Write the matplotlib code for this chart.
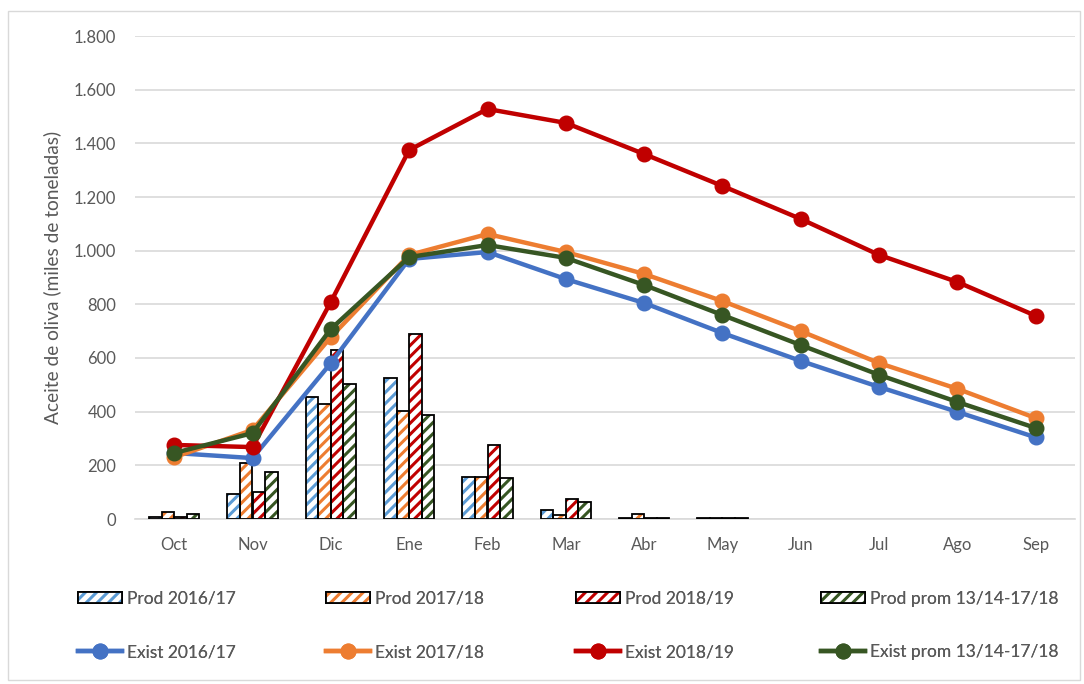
import matplotlib
matplotlib.use("Agg")
import matplotlib.pyplot as plt
from matplotlib.patches import Rectangle
from matplotlib.legend_handler import HandlerTuple
import numpy as np

months = ["Oct", "Nov", "Dic", "Ene", "Feb", "Mar", "Abr", "May", "Jun", "Jul", "Ago", "Sep"]

prod_1617 = [8, 93, 454, 525, 157, 34, 5, 2, 0, 0, 0, 0]
prod_1718 = [27, 208, 428, 403, 157, 15, 17, 2, 0, 0, 0, 0]
prod_1819 = [8, 100, 630, 690, 275, 73, 5, 2, 0, 0, 0, 0]
prod_prom = [20, 176, 503, 387, 153, 62, 5, 2, 0, 0, 0, 0]

exist_1617 = [246, 227, 581, 969, 995, 894, 805, 693, 589, 492, 399, 304]
exist_1718 = [230, 332, 678, 984, 1062, 995, 913, 812, 700, 581, 485, 376]
exist_1819 = [276, 268, 809, 1375, 1528, 1476, 1360, 1241, 1118, 984, 883, 757]
exist_prom = [246, 320, 708, 976, 1021, 973, 872, 760, 648, 537, 436, 339]

prod_labels = ["Prod 2016/17", "Prod 2017/18", "Prod 2018/19", "Prod prom 13/14-17/18"]
exist_labels = ["Exist 2016/17", "Exist 2017/18", "Exist 2018/19", "Exist prom 13/14-17/18"]

hatch_colors = ["#5B9BD5", "#ED7D31", "#C00000", "#375623"]
line_colors = ["#4472C4", "#ED7D31", "#C00000", "#375623"]

plt.rcParams["font.family"] = ["Lato", "DejaVu Sans"]
plt.rcParams["hatch.linewidth"] = 2.2
txt = "#595959"

fig = plt.figure(figsize=(10.84, 6.84), dpi=100)
ax = fig.add_axes([135/1084, 1-519/684, (1075-135)/1084, (519-36)/684])

x = np.arange(len(months))
bw = 0.16
prods = [prod_1617, prod_1718, prod_1819, prod_prom]
exists = [exist_1617, exist_1718, exist_1819, exist_prom]

prod_handles = []
for i, (vals, col) in enumerate(zip(prods, hatch_colors)):
    xs = x + (i - 1.5) * bw
    ax.bar(xs, vals, bw, color="white", edgecolor=col, hatch="///", linewidth=0, zorder=2)
    b2 = ax.bar(xs, vals, bw, facecolor="none", edgecolor="black", linewidth=1.3, zorder=3)
    for j, v in enumerate(vals):
        if v == 0:
            b2.patches[j].set_visible(False)
    p1 = Rectangle((0, 0), 1, 1, facecolor="white", edgecolor=col, hatch="///", linewidth=0)
    p2 = Rectangle((0, 0), 1, 1, facecolor="none", edgecolor="black", linewidth=1.3)
    prod_handles.append((p1, p2))

exist_handles = []
for vals, col in zip(exists, line_colors):
    ln, = ax.plot(x, vals, color=col, linewidth=3.2, marker="o", markersize=10.5, zorder=5)
    exist_handles.append(ln)

ax.set_xlim(-0.5, 11.5)
ax.set_ylim(0, 1800)
ax.set_yticks(np.arange(0, 1801, 200))
ax.set_yticklabels([f"{v:,}".replace(",", ".") for v in range(0, 1801, 200)])
ax.set_xticks(x)
ax.set_xticklabels(months)
ax.tick_params(axis="both", length=0, labelsize=12, colors=txt)
ax.tick_params(axis="y", pad=13.5)
ax.tick_params(axis="x", pad=13)
ax.grid(axis="y", color="#D9D9D9", linewidth=1.2, zorder=0)
ax.set_axisbelow(True)
for s in ["top", "right", "left"]:
    ax.spines[s].set_visible(False)
ax.spines["bottom"].set_color("#D9D9D9")
ax.spines["bottom"].set_linewidth(1.2)
ax.set_ylabel("Aceite de oliva (miles de toneladas)", fontsize=13.8, color=txt, labelpad=9)

# legend entries placed individually
col_x = [78, 326, 576, 821]
rows_y = [599, 652]
for k in range(4):
    for r, (h, lab) in enumerate([(prod_handles[k], prod_labels[k]), (exist_handles[k], exist_labels[k])]):
        leg = fig.legend([h], [lab], loc="center left",
                         bbox_to_anchor=(col_x[k]/1084, 1 - rows_y[r]/684),
                         frameon=False, fontsize=12.5, handlelength=2.55, handleheight=0.6,
                         handletextpad=0.25, borderpad=0, borderaxespad=0,
                         handler_map={tuple: HandlerTuple(ndivide=1)})
        for t in leg.get_texts():
            t.set_color(txt)
        fig.add_artist(leg)

fig.add_artist(Rectangle((8/1084, 1-680/684), (1080-8)/1084, (680-11)/684,
                         transform=fig.transFigure, facecolor="none",
                         edgecolor="#D9D9D9", linewidth=1))

fig.savefig("out.png", dpi=100)
